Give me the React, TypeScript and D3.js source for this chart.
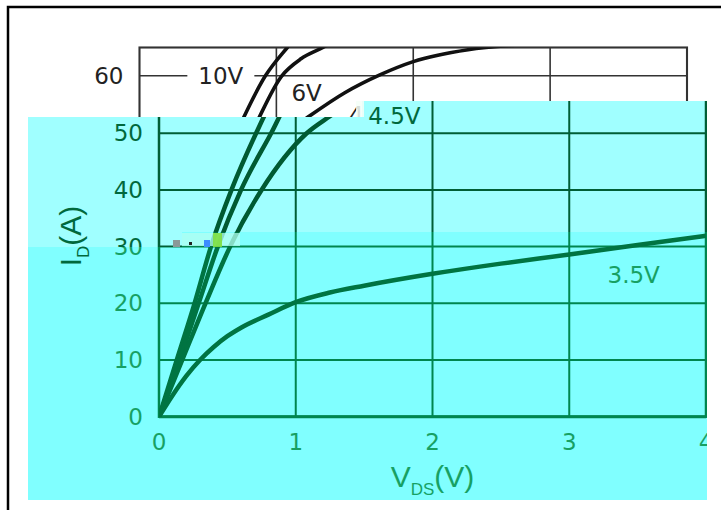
import React from 'react';
import * as d3 from 'd3';

// axis ticks
const vdsTicks = [0, 1, 2, 3, 4];
const idTicks = [0, 10, 20, 30, 40, 50, 60];

// output curves, one per gate voltage (VDS in V, ID in A)
const vds10 = [0, 0.13, 0.26, 0.38, 0.53, 0.71, 0.92, 1.08, 1.15];
const id10 = [0, 10, 20, 30, 40, 50, 60, 65, 67];
const vds6 = [0, 0.15, 0.29, 0.43, 0.6, 0.82, 1.04, 1.18, 1.34, 1.45];
const id6 = [0, 10, 20, 30, 40, 50, 60, 63, 65, 66.5];
const vds45 = [0, 0.17, 0.34, 0.52, 0.75, 1.08, 1.25, 1.5, 1.76, 2.0, 2.4, 2.8];
const id45 = [0, 10, 20, 30, 40, 50, 53, 57, 60.2, 62.5, 64.6, 65.5];
const vds35 = [0, 0.1, 0.2, 0.3, 0.4, 0.5, 0.6, 0.8, 1, 1.25, 1.5, 2, 2.5, 3, 3.5, 4];
const id35 = [0, 3.8, 7.2, 10, 12.3, 14.2, 15.7, 18, 20.2, 21.9, 23.1, 25.2, 27, 28.6, 30.3, 31.9];

// curve labels and where they sit (data units)
const vgsLabels = ['10V', '6V', '4.5V', '3.5V'];
const labelVds = [0.43, 1.11, 1.53, 3.28];
const labelId = [60, 57, 53.1, 25];

const curves = [
  vds10.map((v, i) => ({ v, a: id10[i] })),
  vds6.map((v, i) => ({ v, a: id6[i] })),
  vds45.map((v, i) => ({ v, a: id45[i] })),
  vds35.map((v, i) => ({ v, a: id35[i] })),
];

const numFont = "'DejaVu Sans', sans-serif";
const titleFont = "'Liberation Sans', Arial, sans-serif";

type Pal = { id: string; bg: string; grid: string; curve: string; gridW: number; curveW: number };

const paper: Pal = { id: 'p', bg: '#ffffff', grid: '#333333', curve: '#111111', gridW: 1.6, curveW: 3.6 };
const lightCyan: Pal = { id: 'l', bg: '#a0ffff', grid: '#005e36', curve: '#005a32', gridW: 2, curveW: 4.5 };
const darkCyan: Pal = { id: 'd', bg: '#80ffff', grid: '#00864f', curve: '#007442', gridW: 2, curveW: 4.5 };

// grid, frame and curves
const Marks = ({ x, y, pal, clip }: any) => {
  const line = d3
    .line<{ v: number; a: number }>()
    .x((d) => x(d.v))
    .y((d) => y(d.a))
    .curve(d3.curveMonotoneX);
  const [x0, x1] = x.range();
  const [y0, y1] = y.range();
  return (
    <g clipPath={clip}>
      <defs>
        <clipPath id={'frame' + pal.id}>
          <rect x={x0} y={y1} width={x1 - x0} height={y0 - y1} />
        </clipPath>
      </defs>
      {idTicks.slice(1).map((t) => (
        <line key={'h' + t} x1={x0} x2={x1} y1={y(t)} y2={y(t)} stroke={pal.grid} strokeWidth={pal.gridW} />
      ))}
      {vdsTicks.slice(1, -1).map((t) => (
        <line key={'v' + t} x1={x(t)} x2={x(t)} y1={y0} y2={y1} stroke={pal.grid} strokeWidth={pal.gridW} />
      ))}
      <rect x={x0} y={y1} width={x1 - x0} height={y0 - y1} fill="none" stroke={pal.grid} strokeWidth={pal.gridW + 0.5} />
      <line x1={x0} x2={x1} y1={y0} y2={y0} stroke={pal.grid} strokeWidth={pal.gridW + 1} />
      {/* gap in the gridline behind the 10V label */}
      <rect x={x(labelVds[0]) - 11} y={y(labelId[0]) - 12} width={67} height={24} fill={pal.bg} />
      <g clipPath={`url(#frame${pal.id})`}>
        {curves.map((c, i) => (
          <path key={i} d={line(c) || ''} fill="none" stroke={pal.curve} strokeWidth={pal.curveW} strokeLinecap="round" />
        ))}
      </g>
    </g>
  );
};

// tick labels, curve labels and titles (only those that are not covered)
const Texts = ({ x, y, fill, titles, clip, show }: any) => {
  const [x0, x1] = x.range();
  const [y0] = y.range();
  return (
    <g clipPath={clip} fill={fill}>
      {vgsLabels.map((l, i) =>
        show(y(labelId[i])) ? (
          <text key={l} x={x(labelVds[i])} y={y(labelId[i])} dominantBaseline="central" fontFamily={numFont} fontSize={23}>
            {l}
          </text>
        ) : null
      )}
      {idTicks.map((t) =>
        show(y(t)) ? (
          <text key={'yl' + t} x={x0 - 16} y={y(t)} textAnchor="end" dominantBaseline="central" fontFamily={numFont} fontSize={23}>
            {t}
          </text>
        ) : null
      )}
      {show(y0 + 25) &&
        vdsTicks.map((t) => (
          <text key={'xl' + t} x={x(t)} y={y0 + 25} textAnchor="middle" dominantBaseline="central" fontFamily={numFont} fontSize={23}>
            {t}
          </text>
        ))}
      {titles && (
        <>
          <text x={(x0 + x1) / 2} y={487} textAnchor="middle" fontFamily={titleFont} fontSize={30}>
            V<tspan fontSize={17} dy={8}>DS</tspan>
            <tspan fontSize={30} dy={-8}>(V)</tspan>
          </text>
          <text transform="translate(81,236) rotate(-90)" textAnchor="middle" fontFamily={titleFont} fontSize={30}>
            I<tspan fontSize={17} dy={8}>D</tspan>
            <tspan fontSize={30} dy={-8}>(A)</tspan>
          </text>
        </>
      )}
    </g>
  );
};

const lightPts = '28,117 362,117 362,101 707,101 707,232 182,232 182,247 28,247';
const darkPts = '28,247 182,247 182,232 707,232 707,500 28,500';

const App = () => {
  // original (paper) chart
  const xp = d3.scaleLinear().domain([0, 4]).range([139.5, 687]);
  const yp = d3.scaleLinear().domain([0, 65]).range([415, 47.5]);
  // tinted copy on top
  const xc = d3.scaleLinear().domain([0, 4]).range([159, 706]);
  const yc = d3.scaleLinear().domain([0, 65]).range([416.7, 48.2]);

  return (
    <svg width={721} height={510} style={{ position: 'absolute', left: 0, top: 0, background: '#fff' }}>
      <defs>
        <clipPath id="lightClip">
          <polygon points={lightPts} />
        </clipPath>
        <clipPath id="darkClip">
          <polygon points={darkPts} />
        </clipPath>
        <clipPath id="cyanClip">
          <polygon points={lightPts} />
          <polygon points={darkPts} />
        </clipPath>
        <clipPath id="paperText">
          <rect x={0} y={0} width={721} height={117} />
        </clipPath>
        <linearGradient id="cyanText" gradientUnits="userSpaceOnUse" x1={0} y1={0} x2={0} y2={510}>
          <stop offset={247 / 510} stopColor="#00683c" />
          <stop offset={247 / 510} stopColor="#17a063" />
        </linearGradient>
      </defs>
      <Marks x={xp} y={yp} pal={paper} />
      <Texts x={xp} y={yp} fill="#222" titles={false} clip="url(#paperText)" show={(py: number) => py < 118} />
      <rect x={8} y={7} width={760} height={560} fill="none" stroke="#000" strokeWidth={2.5} />
      <polygon points={lightPts} fill={lightCyan.bg} />
      <polygon points={darkPts} fill={darkCyan.bg} />
      <Marks x={xc} y={yc} pal={lightCyan} clip="url(#lightClip)" />
      <Marks x={xc} y={yc} pal={darkCyan} clip="url(#darkClip)" />
      <Texts x={xc} y={yc} fill="url(#cyanText)" titles clip="url(#cyanClip)" show={(py: number) => py > 100} />
      {/* scan glitches */}
      <rect x={356} y={101} width={8} height={16} fill="#f4fff8" opacity={0.85} />
      <rect x={173} y={240} width={7} height={7} fill="#8a9a98" />
      <rect x={182} y={233} width={58} height={13} fill="#b4fff2" opacity={0.75} />
      <rect x={189} y={242} width={3} height={3} fill="#222" />
      <rect x={204} y={240} width={6} height={7} fill="#3c8cff" />
      <rect x={213} y={233} width={9} height={14} fill="#7fe040" opacity={0.9} />
    </svg>
  );
};

export default App;
